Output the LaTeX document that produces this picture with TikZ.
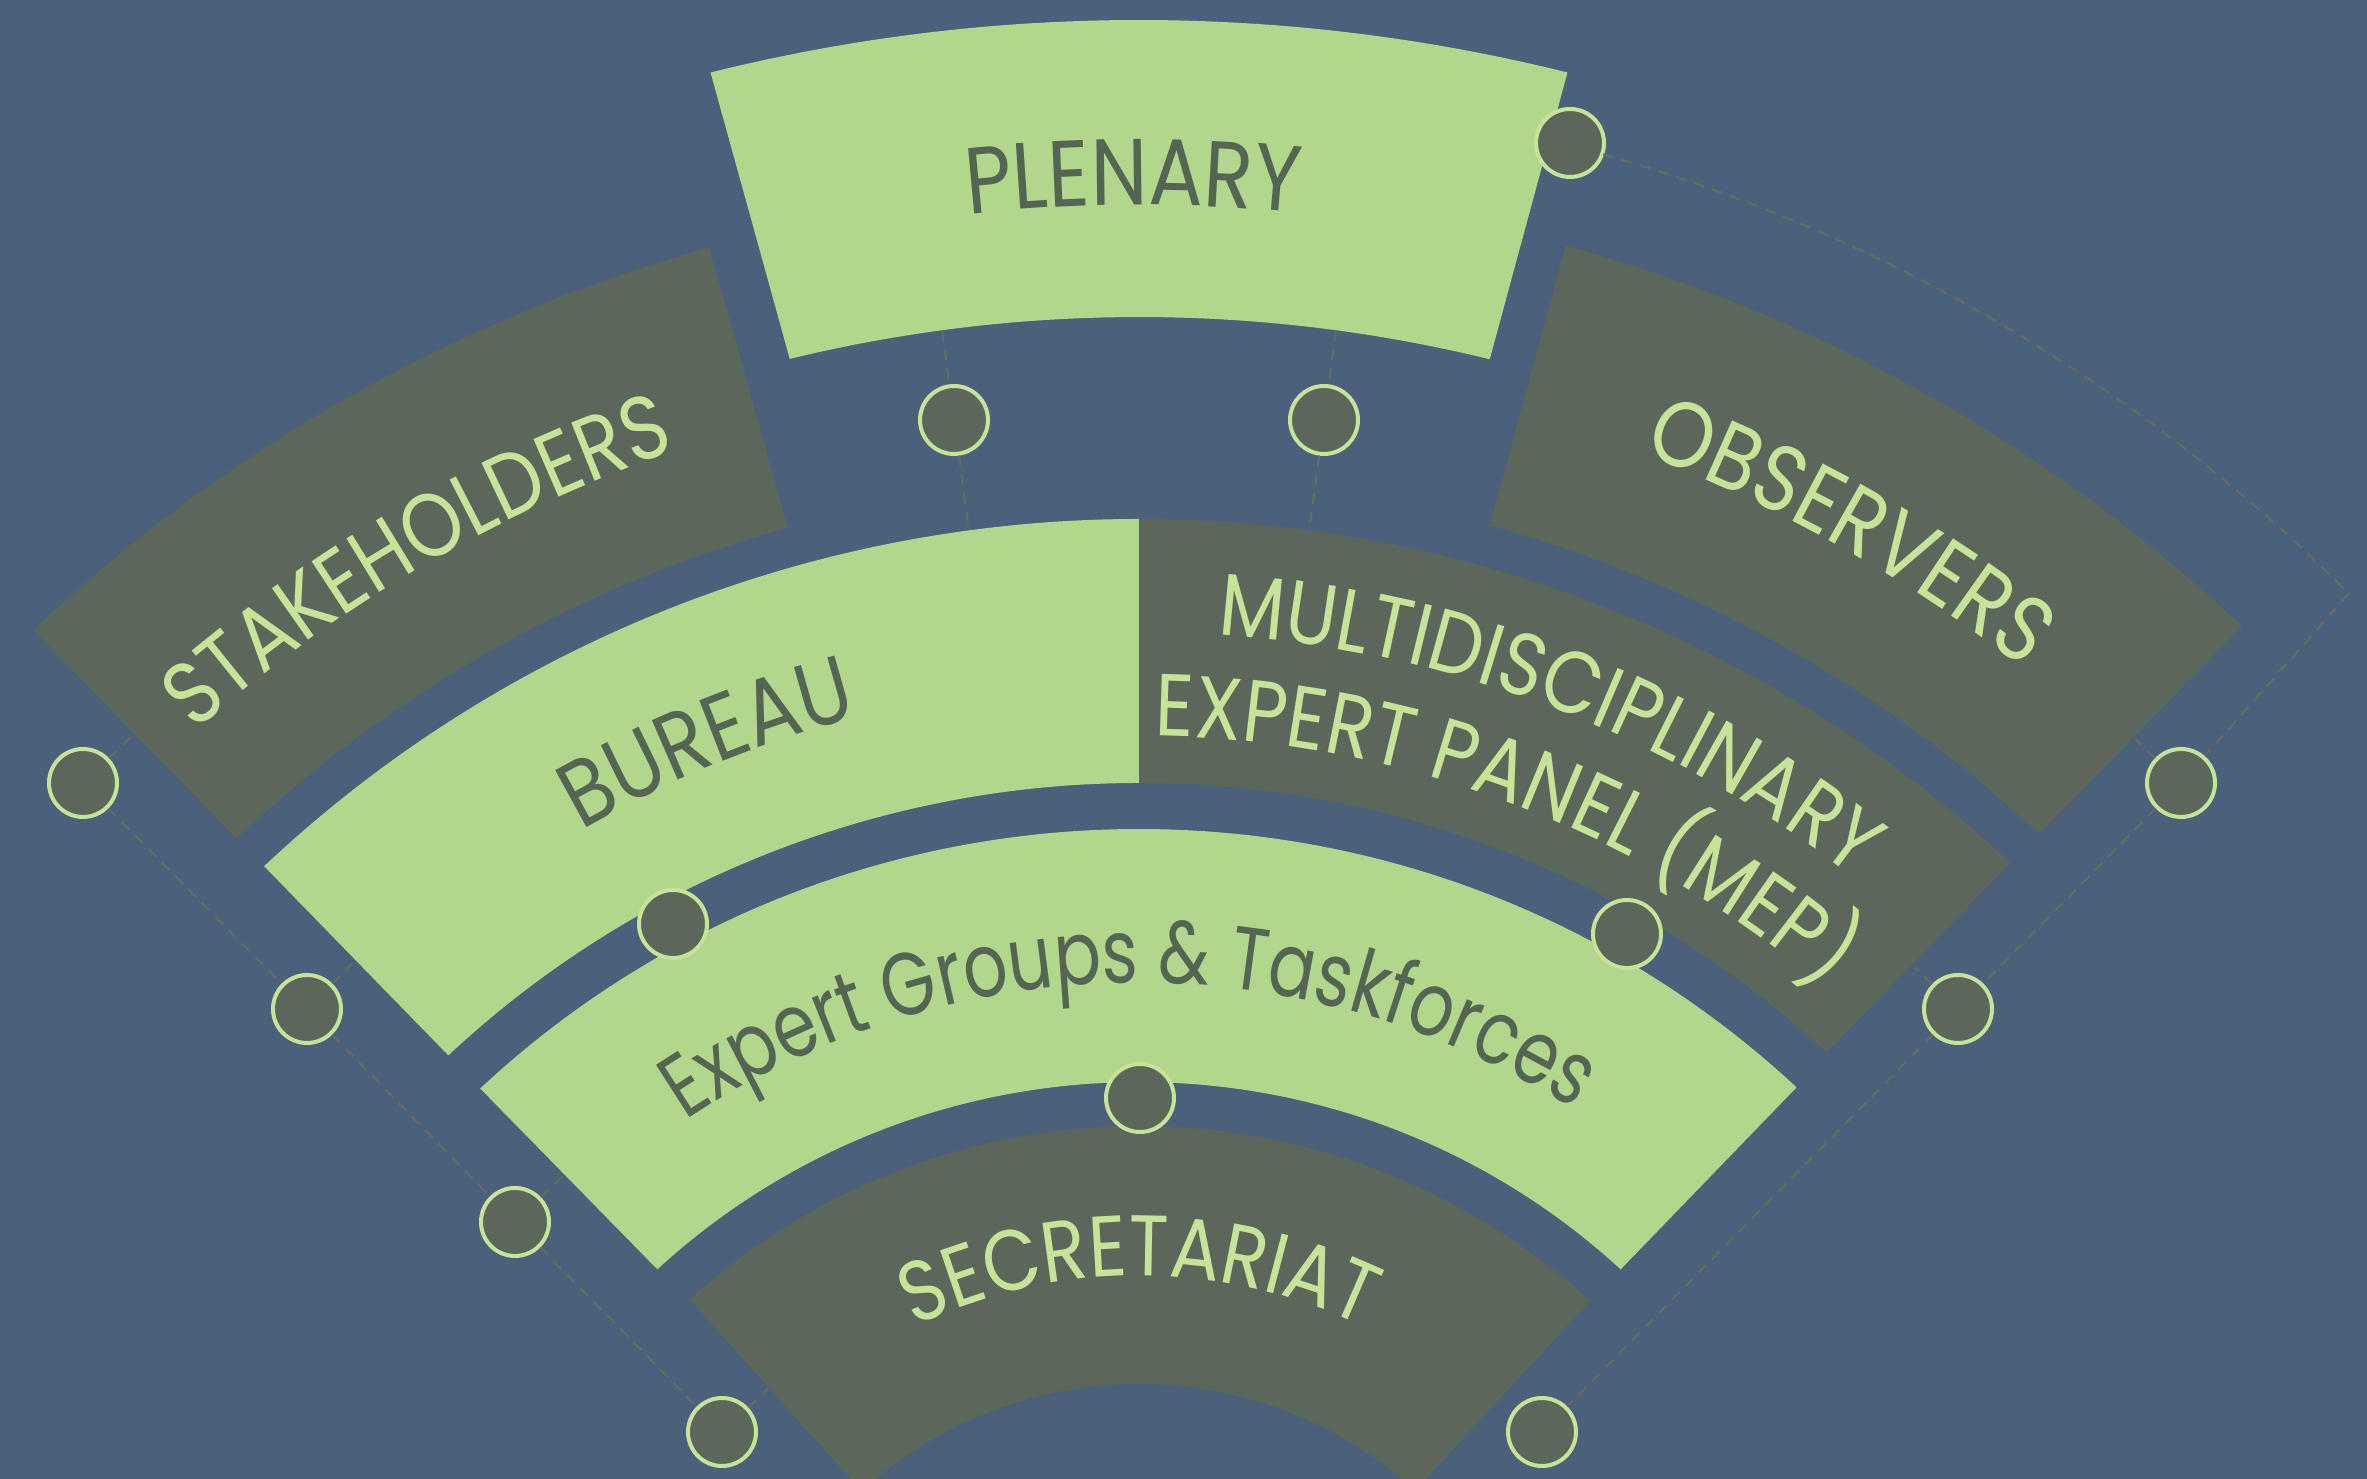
\documentclass[tikz,border=0pt]{standalone}
\usepackage{fontspec}
\usetikzlibrary{calc,decorations.text}
\newfontfamily\labfont[FakeStretch=0.86]{Poppins}
\newfontfamily\lowlabfont[FakeStretch=0.78]{Poppins}
\definecolor{bgblue}{HTML}{4B607A}
\definecolor{lgreen}{HTML}{B2D68B}
\definecolor{dgrey}{HTML}{5C675B}
\definecolor{ltext}{HTML}{C6E398}
\definecolor{dtext}{HTML}{556553}
\definecolor{dashcol}{HTML}{646B66}
\newcommand\sectorband[7]{\path[#1] ($(C)+(#2:#4)$) arc[start angle=#2, end angle=#3, radius=#4pt] -- ($(C)+(#5:#7)$) arc[start angle=#5, end angle=#6, radius=#7pt] -- cycle;}
\newcommand\arctext[7]{\path[decorate, decoration={text along path, text align=center, text color=#1, text={|#7\fontsize{#2}{#2}\selectfont|#6}}] ($(C)+(#4:#3)$) arc[start angle=#4, end angle=#5, radius=#3pt];}
\begin{document}
\begin{tikzpicture}[x=1pt,y=1pt,
  dot/.style={circle, fill=dgrey, draw=ltext, line width=4pt, minimum size=68pt, inner sep=0pt},
  link/.style={draw=dashcol, line width=2.2pt, dash pattern=on 11pt off 8pt},
  lightband/.style={fill=lgreen},
  darkband/.style={fill=dgrey}]
\useasboundingbox (0,0) rectangle (2367,1479);
\fill[bgblue] (0,0) rectangle (2367,1479);
\clip (0,0) rectangle (2367,1479);
\coordinate (C) at (1139,-316);
% bands
\sectorband{lightband}{103.97}{76.03}{1775}{76.27}{103.67}{1478}
\sectorband{darkband}{133.5}{105.52}{1606}{105.48}{133.34}{1315}
\sectorband{darkband}{74.6}{46.66}{1607}{46.87}{74.55}{1317}
\sectorband{lightband}{133.29}{90}{1276}{90}{133.04}{1012}
\sectorband{darkband}{90}{46.93}{1276}{47.2}{90}{1012}
\sectorband{lightband}{133.0}{47.1}{966}{47.5}{132.5}{713}
\sectorband{darkband}{132.2}{47.6}{669}{47.8}{132.4}{411}
% labels
\arctext{dtext}{94}{1590}{100.2}{80.2}{PLENARY}{\labfont}
\arctext{ltext}{90}{1422}{135.4}{105.2}{STAKEHOLDERS}{\labfont}
\arctext{ltext}{93}{1432}{75.65}{45.65}{OBSERVERS}{\labfont}
\arctext{dtext}{93}{1114}{127.3}{97.3}{BUREAU}{\labfont}
\arctext{ltext}{88}{1163}{89.1}{49.1}{MULTIDISCIPLINARY}{\labfont}
\arctext{ltext}{88}{1059}{89.35}{49.35}{EXPERT PANEL (MEP)}{\labfont}
\arctext{dtext}{89}{812}{130.75}{50.75}{Expert Groups {\&} Taskforces}{\lowlabfont}
\arctext{ltext}{86}{519}{120}{60}{SECRETARIAT}{\labfont}
% circles
\node[dot] (cP) at (1570,1336) {};
\node[dot] (cA) at (954,1059) {};
\node[dot] (cB) at (1324,1059) {};
\node[dot] (cG1) at (673,555) {};
\node[dot] (cG2) at (1627,545) {};
\node[dot] (cG3) at (1140,381) {};
\node[dot] (cL1) at (83,696) {};
\node[dot] (cL2) at (307,470) {};
\node[dot] (cL3) at (515,257) {};
\node[dot] (cL4) at (722,47) {};
\node[dot] (cR1) at (2181,696) {};
\node[dot] (cR2) at (1958,470) {};
\node[dot] (cR3) at (1542,47) {};
% connector end points
\coordinate (pA1) at ($(C)+(97.66:1478)$);
\coordinate (pA2) at ($(C)+(97.66:1276)$);
\coordinate (pB1) at ($(C)+(82.34:1478)$);
\coordinate (pB2) at ($(C)+(82.34:1276)$);
\coordinate (arcS) at ($(C)+(74.2:1705)$);
\coordinate (tL1) at (131,742);
\coordinate (tL2) at (352,515);
\coordinate (tL3) at (563,303);
\coordinate (tL4) at (768,90);
\coordinate (tR1) at (2135,740);
\coordinate (tR2) at (1915,511);
% connectors
\draw[link] (pA1) -- (cA) -- (pA2);
\draw[link] (pB1) -- (cB) -- (pB2);
\draw[link] (arcS) arc[start angle=74.2, end angle=44.8, radius=1705pt] -- (cR1);
\draw[link] (cR1) -- (cR2) -- (cR3);
\draw[link] (cL1) -- (cL2) -- (cL3) -- (cL4);
\draw[link] (cL1) -- (tL1);
\draw[link] (cL2) -- (tL2);
\draw[link] (cL3) -- (tL3);
\draw[link] (cL4) -- (tL4);
\draw[link] (cR1) -- (tR1);
\draw[link] (cR2) -- (tR2);
\end{tikzpicture}
\end{document}
